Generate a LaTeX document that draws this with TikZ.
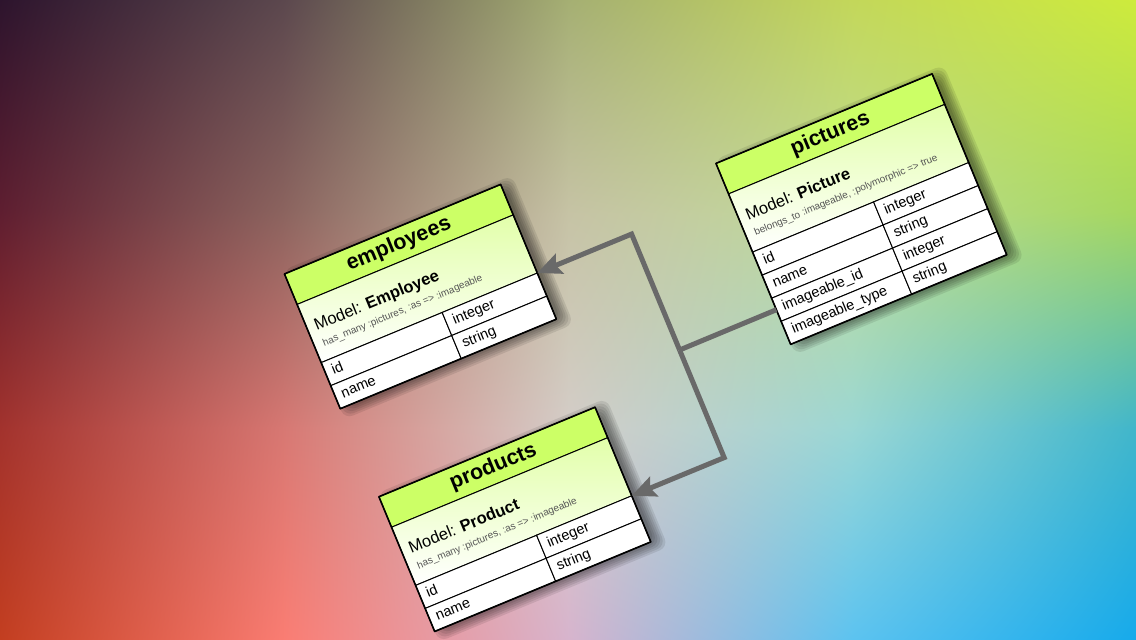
\documentclass[tikz,border=0pt]{standalone}
\usepackage{fontspec}
\setmainfont{Liberation Sans}
\usetikzlibrary{arrows.meta,shadings}
\definecolor{a0}{RGB}{45,20,45}
\definecolor{a1}{RGB}{92,72,78}
\definecolor{a2}{RGB}{165,175,115}
\definecolor{a3}{RGB}{195,215,90}
\definecolor{a4}{RGB}{205,235,60}
\definecolor{b0}{RGB}{95,30,48}
\definecolor{b1}{RGB}{140,100,95}
\definecolor{b2}{RGB}{198,195,165}
\definecolor{b3}{RGB}{190,220,150}
\definecolor{b4}{RGB}{165,215,95}
\definecolor{c0}{RGB}{162,50,45}
\definecolor{c1}{RGB}{215,120,115}
\definecolor{c2}{RGB}{212,205,200}
\definecolor{c3}{RGB}{155,215,212}
\definecolor{c4}{RGB}{65,182,202}
\definecolor{d0}{RGB}{195,62,32}
\definecolor{d1}{RGB}{250,125,115}
\definecolor{d2}{RGB}{215,180,205}
\definecolor{d3}{RGB}{92,195,240}
\definecolor{d4}{RGB}{22,170,235}
\definecolor{lime}{RGB}{204,255,102}
\definecolor{mtop}{RGB}{226,255,170}
\definecolor{conncol}{RGB}{105,105,105}
\definecolor{assoccol}{RGB}{85,85,85}
\begin{document}
\begin{tikzpicture}[x=1pt,y=-1pt,
  hdr/.style={draw=black, line width=1pt, outer sep=0pt, inner sep=0pt, anchor=north west,
    minimum width=234pt, minimum height=33pt, fill=lime,
    font=\fontsize{21.5}{24}\selectfont\bfseries},
  modelbox/.style={draw=black, line width=1pt, outer sep=0pt, inner sep=0pt, anchor=north west,
    minimum width=234pt, minimum height=63pt, top color=mtop, bottom color=white},
  cell/.style={draw=black, line width=1pt, outer sep=0pt, inner xsep=7pt, inner ysep=0pt,
    anchor=north west, minimum height=25pt, fill=white, align=left,
    text height=10.5pt, text depth=3pt, font=\fontsize{14.5}{16}\selectfont},
  namecell/.style={cell, minimum width=131pt, text width=117pt},
  typecell/.style={cell, minimum width=103pt, text width=89pt},
  outerline/.style={draw=black, line width=1.6pt, line join=round},
  mtxt/.style={anchor=base west, inner sep=0pt, font=\fontsize{16.5}{18}\selectfont},
  atxt/.style={anchor=base west, inner sep=0pt, text=assoccol, font=\fontsize{10}{12}\selectfont},
  conn/.style={draw=conncol, line width=5pt},
  arr/.style={-{Stealth[length=24pt,width=21pt,inset=4pt]}},
  shadowlayer/.style={fill=black, opacity=0.09, rounded corners=9pt}
]
\useasboundingbox (0,0) rectangle (1136,640);
% background mesh
\shade[upper left=a0, upper right=a1, lower left=b0, lower right=b1] (0,0) rectangle (285,214);
\shade[upper left=a1, upper right=a2, lower left=b1, lower right=b2] (284,0) rectangle (569,214);
\shade[upper left=a2, upper right=a3, lower left=b2, lower right=b3] (568,0) rectangle (853,214);
\shade[upper left=a3, upper right=a4, lower left=b3, lower right=b4] (852,0) rectangle (1136,214);
\shade[upper left=b0, upper right=b1, lower left=c0, lower right=c1] (0,213) rectangle (285,428);
\shade[upper left=b1, upper right=b2, lower left=c1, lower right=c2] (284,213) rectangle (569,428);
\shade[upper left=b2, upper right=b3, lower left=c2, lower right=c3] (568,213) rectangle (853,428);
\shade[upper left=b3, upper right=b4, lower left=c3, lower right=c4] (852,213) rectangle (1136,428);
\shade[upper left=c0, upper right=c1, lower left=d0, lower right=d1] (0,427) rectangle (285,640);
\shade[upper left=c1, upper right=c2, lower left=d1, lower right=d2] (284,427) rectangle (569,640);
\shade[upper left=c2, upper right=c3, lower left=d2, lower right=d3] (568,427) rectangle (853,640);
\shade[upper left=c3, upper right=c4, lower left=d3, lower right=d4] (852,427) rectangle (1136,640);

\begin{scope}[rotate=22.5, transform shape]
% soft shadows
\foreach \u/\v/\h in {158/362/146, 160/604/146, 599/425/196}{
  \foreach \e in {7,5,3,1,-1,-3}{
    \fill[shadowlayer] ({\u+7-\e},{\v+3-\e}) rectangle ({\u+234+7+\e},{\v+\h+4+\e});
  }
}

% employees
\node[hdr] (emp-h) at (158,362) {employees};
\node[modelbox] (emp-m) at (emp-h.south west) {};
\node[namecell] (emp-id) at (emp-m.south west) {id};
\node[typecell] (emp-idt) at (emp-id.north east) {integer};
\node[namecell] (emp-name) at (emp-id.south west) {name};
\node[typecell] (emp-namet) at (emp-name.north east) {string};
\draw[outerline] (emp-h.north west) -- (emp-h.north east) -- (emp-namet.south east) -- (emp-name.south west) -- cycle;
\node[mtxt] (emp-mt) at (166,427) {Model: \textbf{Employee}};
\node[atxt] (emp-at) at (167,444) {has\_many :pictures, :as => :imageable};

% products
\node[hdr] (pro-h) at (160,604) {products};
\node[modelbox] (pro-m) at (pro-h.south west) {};
\node[namecell] (pro-id) at (pro-m.south west) {id};
\node[typecell] (pro-idt) at (pro-id.north east) {integer};
\node[namecell] (pro-name) at (pro-id.south west) {name};
\node[typecell] (pro-namet) at (pro-name.north east) {string};
\draw[outerline] (pro-h.north west) -- (pro-h.north east) -- (pro-namet.south east) -- (pro-name.south west) -- cycle;
\node[mtxt] (pro-mt) at (168,669) {Model: \textbf{Product}};
\node[atxt] (pro-at) at (169,686) {has\_many :pictures, :as => :imageable};

% pictures
\node[hdr] (pic-h) at (599,425) {pictures};
\node[modelbox] (pic-m) at (pic-h.south west) {};
\node[namecell] (pic-id) at (pic-m.south west) {id};
\node[typecell] (pic-idt) at (pic-id.north east) {integer};
\node[namecell] (pic-name) at (pic-id.south west) {name};
\node[typecell] (pic-namet) at (pic-name.north east) {string};
\node[namecell] (pic-imgid) at (pic-name.south west) {imageable\_id};
\node[typecell] (pic-imgidt) at (pic-imgid.north east) {integer};
\node[namecell] (pic-imgtype) at (pic-imgid.south west) {imageable\_type};
\node[typecell] (pic-imgtypet) at (pic-imgtype.north east) {string};
\draw[outerline] (pic-h.north west) -- (pic-h.north east) -- (pic-imgtypet.south east) -- (pic-imgtype.south west) -- cycle;
\node[mtxt] (pic-mt) at (607,490) {Model: \textbf{Picture}};
\node[atxt] (pic-at) at (608,507) {belongs\_to :imageable, :polymorphic => true};

% connectors
\coordinate (j) at (494,583.5);
\coordinate (k1) at (494,458);
\coordinate (k2) at (494,700);
\draw[conn] (pic-imgid.west) -- (j);
\draw[conn, arr] (j) -- (k1) -- (emp-idt.north east);
\draw[conn, arr] (j) -- (k2) -- (pro-idt.north east);
\end{scope}
\end{tikzpicture}
\end{document}
